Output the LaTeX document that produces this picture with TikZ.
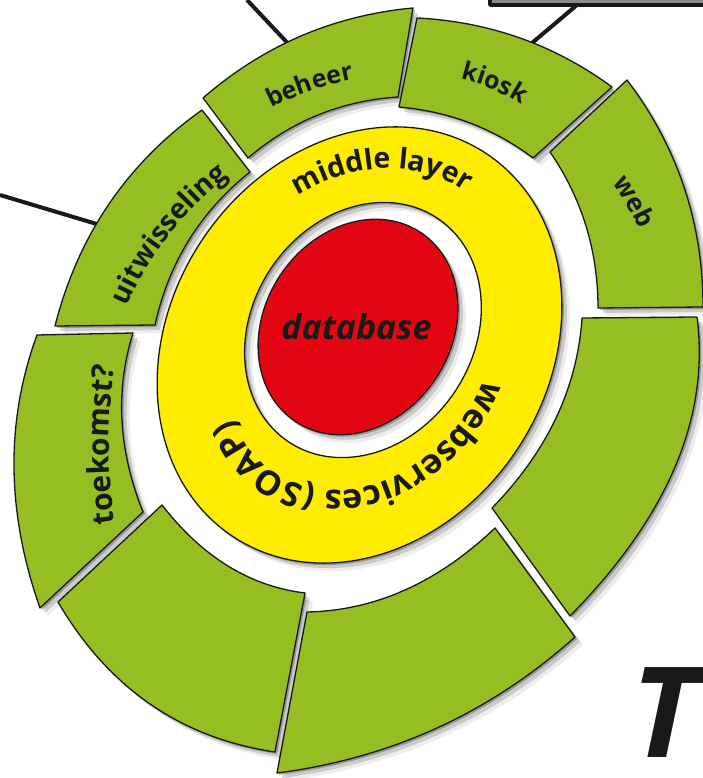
\documentclass[tikz,border=0pt]{standalone}
\usepackage{fontspec}
\setmainfont{Open Sans}
\usetikzlibrary{calc,decorations.text}
\definecolor{segGreen}{RGB}{150,190,35}
\definecolor{ringYellow}{RGB}{255,236,0}
\definecolor{coreRed}{RGB}{226,6,19}
\definecolor{inkBlack}{RGB}{25,25,25}
\newcommand\qto[3]{.. controls ($4/3*(#2)-1/3*(#3)$) and ($4/3*(#2)-1/3*(#1)$) .. (#3)}
\newcommand\segcoords[7]{%
  \coordinate (#1-oa) at (#2); \coordinate (#1-om) at (#3); \coordinate (#1-ob) at (#4);
  \coordinate (#1-ib) at (#5); \coordinate (#1-im) at (#6); \coordinate (#1-ia) at (#7);}
\newcommand\segpath[1]{(#1-oa) \qto{#1-oa}{#1-om}{#1-ob} -- (#1-ib) \qto{#1-ib}{#1-im}{#1-ia} -- cycle}
\newcommand\txtcoords[4]{\coordinate (#1-ta) at (#2); \coordinate (#1-tm) at (#3); \coordinate (#1-tb) at (#4);}
\newcommand\seglabel[3]{\path[decorate, decoration={text along path, text align=center, text color=inkBlack, text={|\bfseries\fontsize{#2}{#2}\selectfont|#3}}] (#1-ta) \qto{#1-ta}{#1-tm}{#1-tb};}
\newcommand\allsegs{\segpath{bh} \segpath{ks} \segpath{wb} \segpath{rt} \segpath{br} \segpath{bl} \segpath{tk} \segpath{uw}}
\newcommand\ringshape{(0,0) ellipse[x radius=229.6, y radius=189.2] (14.4,5.4) ellipse[x radius=134.3, y radius=110.7]}
\newcommand\coreshape{(14.2,11.2) ellipse[x radius=113.4, y radius=93.4]}
\begin{document}
\begin{tikzpicture}[x=1pt,y=1pt,line join=round,
  segstyle/.style={fill=segGreen, draw=inkBlack, line width=1.3},
  connector/.style={draw=inkBlack, line width=4}]
\useasboundingbox (0,0) rectangle (703,778);
\clip (0,0) rectangle (703,778);

% segment corner coordinates: outer start, outer mid, outer end, inner end, inner mid, inner start
\segcoords{bh}{203,680}{301,742}{413,770}{398,681}{318,663}{248,620}
\segcoords{ks}{417,760}{520,740}{612,691}{533,620}{470,655}{399,671}
\segcoords{wb}{627,698}{684,591}{703,471}{598,470}{586,552}{550,626}
\segcoords{rt}{697,461}{675,311}{570,162}{492,270}{556,360}{582,460}
\segcoords{br}{575,141}{437,50}{277,5}{307,166}{405,188}{495,250}
\segcoords{bl}{275,26}{150,74}{58,176}{162,273}{228,212}{305,185}
\segcoords{tk}{40,170}{14,310}{37,443}{133,445}{122,357}{143,266}
\segcoords{uw}{55,452}{109,574}{202,668}{250,606}{189,538}{155,453}

% label baselines
\txtcoords{bh}{248,657}{311,687}{380,703}
\txtcoords{ks}{430,704}{492,689}{546,655}
\txtcoords{wb}{595,618}{626,574}{650,522}
\txtcoords{uw}{120,455}{170,543}{243,612}
\txtcoords{tk}{121,221}{109,333}{121,445}

% box at the top right
\coordinate (boxA) at (490,773);
\coordinate (boxB) at (740,800);
\draw[line width=3.5, draw=inkBlack, fill=black!45] (boxA) rectangle (boxB);

% connectors
\coordinate (lnA1) at (0,583);   \coordinate (lnA2) at (110,550);
\coordinate (lnB1) at (247,778); \coordinate (lnB2) at (296,726);
\coordinate (lnC1) at (577,773); \coordinate (lnC2) at (532,735);
\draw[connector] (lnA1) -- (lnA2);
\draw[connector] (lnB1) -- (lnB2);
\draw[connector] (lnC1) -- (lnC2);

% shadows
\begin{scope}[transform canvas={shift={(2,-2)}}]
  \fill[black, opacity=0.25] \allsegs;
  \begin{scope}[shift={(359.5,433)}, rotate=56.5]
    \fill[black, opacity=0.25, even odd rule] \ringshape;
    \fill[black, opacity=0.25] \coreshape;
  \end{scope}
\end{scope}
\begin{scope}[transform canvas={shift={(5,-5)}}]
  \fill[black, opacity=0.15] \allsegs;
  \begin{scope}[shift={(359.5,433)}, rotate=56.5]
    \fill[black, opacity=0.15, even odd rule] \ringshape;
    \fill[black, opacity=0.15] \coreshape;
  \end{scope}
\end{scope}
\begin{scope}[transform canvas={shift={(8,-8)}}]
  \fill[black, opacity=0.07] \allsegs;
  \begin{scope}[shift={(359.5,433)}, rotate=56.5]
    \fill[black, opacity=0.07, even odd rule] \ringshape;
    \fill[black, opacity=0.07] \coreshape;
  \end{scope}
\end{scope}

% green segments
\foreach \s in {bh,ks,wb,rt,br,bl,tk,uw} {\path[segstyle] \segpath{\s};}

% yellow ring and red core
\begin{scope}[shift={(359.5,433)}, rotate=56.5]
  \coordinate (ringC) at (0,0);
  \path[fill=ringYellow, even odd rule] \ringshape;
  \draw[inkBlack, line width=1.3] \ringshape;
  \path[fill=coreRed, draw=inkBlack, line width=1.3] \coreshape;
  \path[decorate, decoration={text along path, text align=center, text color=inkBlack, text={|\bfseries\fontsize{28.5}{28.5}\selectfont|middle layer}}]
    ({186*cos(97)},{153.3*sin(97)}) arc[start angle=97, end angle=-43, x radius=186, y radius=153.3];
  \path[decorate, decoration={text along path, text align=center, text color=inkBlack, text={|\bfseries\fontsize{34}{34}\selectfont|webservices (SOAP)}}]
    ({153*cos(340)},{126.5*sin(340)}) arc[start angle=340, end angle=96, x radius=153, y radius=126.5];
\end{scope}

\node[font=\bfseries\itshape\fontsize{34}{34}\selectfont, text=inkBlack, inner sep=0] (db) at (356.5,451.5) {database};

% segment labels
\seglabel{bh}{25}{beheer}
\seglabel{ks}{25}{kiosk}
\seglabel{wb}{26}{web}
\seglabel{uw}{28}{uitwisseling}
\seglabel{tk}{30}{toekomst?}

% big letter at the bottom right
\node[anchor=base west, inner sep=0, font=\bfseries\itshape\fontsize{126}{126}\selectfont, text=inkBlack] (bigT) at (631,20) {T};
\end{tikzpicture}
\end{document}
